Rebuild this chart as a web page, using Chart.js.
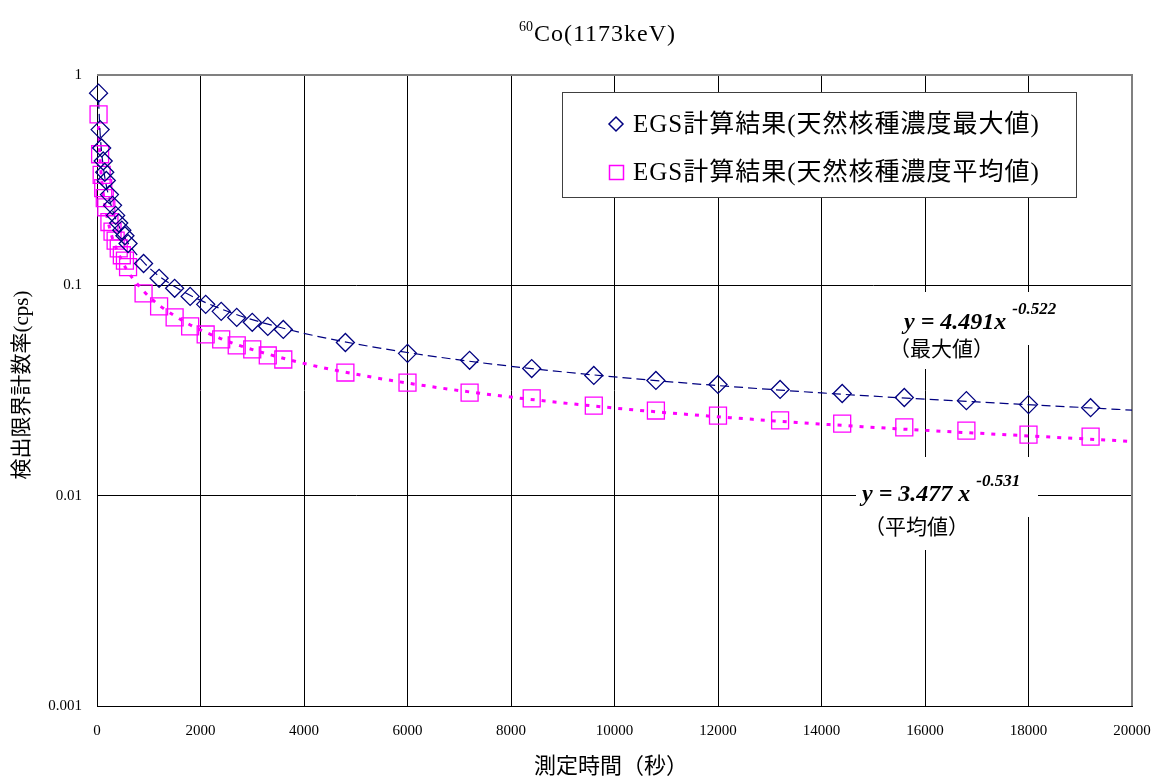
<!DOCTYPE html>
<html>
<head>
<meta charset="utf-8">
<script src="https://cdn.jsdelivr.net/npm/chart.js@4.4.0/dist/chart.umd.min.js"></script>
<style>
  html, body { margin: 0; padding: 0; background: #fff; }
</style>
</head>
<body>
<canvas id="detectionChart" width="1154" height="782"></canvas>
<script>
// measurement times (s)
const times = [30, 60, 90, 120, 150, 180, 240, 300, 360, 420, 480, 540, 600,
    900, 1200, 1500, 1800, 2100, 2400, 2700, 3000, 3300, 3600,
    4800, 6000, 7200, 8400, 9600, 10800, 12000, 13200, 14400, 15600, 16800, 18000, 19200];

// EGS result, max natural nuclide concentration (cps)
const maxValues = [0.82, 0.55, 0.45, 0.39, 0.345, 0.315, 0.27, 0.24, 0.215, 0.198, 0.183, 0.172, 0.158,
    0.127, 0.108, 0.0968, 0.0886, 0.0812, 0.0752, 0.0704, 0.0667, 0.0638, 0.0617,
    0.0535, 0.0475, 0.0440, 0.0402, 0.0373, 0.0353, 0.0338, 0.0320, 0.0306, 0.0293, 0.0283, 0.0271, 0.0262];

// EGS result, average natural nuclide concentration (cps)
const avgValues = [0.65, 0.42, 0.335, 0.29, 0.26, 0.235, 0.20, 0.18, 0.163, 0.15, 0.139, 0.131, 0.122,
    0.0916, 0.0794, 0.0704, 0.0638, 0.0584, 0.0553, 0.0518, 0.0496, 0.0464, 0.0444,
    0.0385, 0.0345, 0.0309, 0.0290, 0.0268, 0.0254, 0.0240, 0.0228, 0.0220, 0.0211, 0.0204, 0.0195, 0.0191];

// power trend lines
const trendTimes = [30, 60, 120, 240, 480, 900, 1500, 2400, 3600, 5000, 7000, 10000, 14000, 20000];
const trendMax = [0.761, 0.530, 0.369, 0.257, 0.179, 0.1289, 0.0987, 0.0772, 0.0625, 0.0527, 0.0442, 0.0367, 0.0308, 0.0255];
const trendAvg = [0.571, 0.395, 0.274, 0.189, 0.131, 0.0939, 0.0716, 0.0557, 0.0450, 0.0378, 0.0316, 0.0261, 0.0219, 0.0181];

const yTicks = [1, 0.1, 0.01, 0.001];

const SERIF = "'Liberation Serif', 'Noto Sans CJK JP', serif";
const NAVY = '#000080';
const MAGENTA = '#ff00ff';

const toPoints = (xs, ys) => xs.map((x, i) => ({ x: x, y: ys[i] }));

/**
 * Title, axis titles, legend box and fit-equation labels
 */
const overlay = {
    id: 'overlay',
    beforeDatasetsDraw(chart) {
        const ctx = chart.ctx;
        const area = chart.chartArea;
        ctx.save();

        // gray frame on top / right
        ctx.strokeStyle = '#808080';
        ctx.lineWidth = 2;
        ctx.beginPath();
        ctx.moveTo(area.left, area.top);
        ctx.lineTo(area.right, area.top);
        ctx.lineTo(area.right, area.bottom);
        ctx.stroke();

        // white boxes behind the equation labels
        ctx.fillStyle = '#fff';
        ctx.fillRect(890, 292, 185, 53);
        ctx.fillRect(893, 335, 107, 34);
        ctx.fillRect(856, 457, 182, 60);
        ctx.fillRect(864, 508, 114, 42);

        ctx.fillStyle = '#000';
        ctx.textBaseline = 'alphabetic';
        ctx.textAlign = 'left';

        const equation = (x, baseline, main, sup) => {
            ctx.font = `italic bold 24px ${SERIF}`;
            ctx.fillText(main, x, baseline);
            const w = ctx.measureText(main).width;
            ctx.font = `italic bold 17px ${SERIF}`;
            ctx.fillText(sup, x + w + 6, baseline - 15);
        };
        equation(904, 329, 'y = 4.491x', '-0.522');
        equation(862, 501, 'y = 3.477 x', '-0.531');

        ctx.font = `21px ${SERIF}`;
        ctx.textBaseline = 'middle';
        ctx.fillText('（最大値）', 889, 350);
        ctx.fillText('（平均値）', 864, 528);

        ctx.restore();
    },
    afterDraw(chart) {
        const ctx = chart.ctx;
        ctx.save();
        ctx.fillStyle = '#000';

        // chart title with superscript mass number
        ctx.textBaseline = 'alphabetic';
        ctx.font = `14px ${SERIF}`;
        const supW = ctx.measureText('60').width;
        ctx.font = `24px ${SERIF}`;
        ctx.letterSpacing = '1px';
        const mainText = 'Co(1173keV)';
        const mainW = ctx.measureText(mainText).width;
        const startX = 597 - (supW + mainW) / 2;
        ctx.fillText(mainText, startX + supW + 1, 41);
        ctx.letterSpacing = '0px';
        ctx.font = `14px ${SERIF}`;
        ctx.fillText('60', startX, 31);

        // axis titles
        ctx.textAlign = 'center';
        ctx.textBaseline = 'middle';
        ctx.font = `22px ${SERIF}`;
        ctx.fillText('測定時間（秒）', 611, 767);

        ctx.font = `21px ${SERIF}`;
        ctx.save();
        ctx.translate(22, 385);
        ctx.rotate(-Math.PI / 2);
        ctx.fillText('検出限界計数率(cps)', 0, 0);
        ctx.restore();

        // legend
        ctx.fillStyle = '#fff';
        ctx.fillRect(562.5, 92.5, 514, 105);
        ctx.strokeStyle = '#404040';
        ctx.lineWidth = 1;
        ctx.strokeRect(562.5, 92.5, 514, 105);

        ctx.lineWidth = 1.5;
        ctx.strokeStyle = NAVY;
        ctx.beginPath();
        ctx.moveTo(609, 124);
        ctx.lineTo(616, 117);
        ctx.lineTo(623, 124);
        ctx.lineTo(616, 131);
        ctx.closePath();
        ctx.stroke();

        ctx.strokeStyle = MAGENTA;
        ctx.strokeRect(609.5, 165.5, 14, 14);

        ctx.fillStyle = '#000';
        ctx.textAlign = 'left';
        ctx.font = `25px ${SERIF}`;
        ctx.letterSpacing = '1px';
        ctx.fillText('EGS計算結果(天然核種濃度最大値)', 633, 125);
        ctx.fillText('EGS計算結果(天然核種濃度平均値)', 633, 173);
        ctx.letterSpacing = '0px';

        ctx.restore();
    }
};

new Chart(document.getElementById('detectionChart'), {
    type: 'scatter',
    data: {
        datasets: [
            {
                label: 'EGS計算結果(天然核種濃度最大値)',
                data: toPoints(times, maxValues),
                pointStyle: 'rectRot',
                pointRadius: 9,
                borderColor: NAVY,
                backgroundColor: 'transparent',
                borderWidth: 1.3,
                clip: false
            },
            {
                label: 'EGS計算結果(天然核種濃度平均値)',
                data: toPoints(times, avgValues),
                pointStyle: 'rect',
                pointRadius: 12,
                borderColor: MAGENTA,
                backgroundColor: 'transparent',
                borderWidth: 1.3,
                clip: false
            },
            {
                label: 'trend max',
                data: toPoints(trendTimes, trendMax),
                showLine: true,
                pointRadius: 0,
                borderColor: NAVY,
                borderWidth: 1.2,
                borderDash: [9, 5],
                cubicInterpolationMode: 'monotone'
            },
            {
                label: 'trend avg',
                data: toPoints(trendTimes, trendAvg),
                showLine: true,
                pointRadius: 0,
                borderColor: MAGENTA,
                borderWidth: 3,
                borderDash: [4, 7],
                cubicInterpolationMode: 'monotone'
            }
        ]
    },
    options: {
        responsive: false,
        animation: false,
        layout: {
            padding: { top: 75, right: 22, left: 0, bottom: 0 }
        },
        plugins: {
            legend: { display: false },
            tooltip: { enabled: false }
        },
        scales: {
            x: {
                type: 'linear',
                min: 0,
                max: 20000,
                ticks: {
                    stepSize: 2000,
                    color: '#000',
                    padding: 16,
                    maxRotation: 0,
                    font: { family: SERIF, size: 15 },
                    callback: (value) => String(value)
                },
                grid: { color: '#000', lineWidth: 1, drawTicks: false },
                border: { color: '#000', width: 1 },
                afterFit: (scale) => {
                    scale.height = 76;
                    scale.paddingLeft = 0;
                    scale.paddingRight = 0;
                }
            },
            y: {
                type: 'logarithmic',
                min: 0.001,
                max: 1,
                afterBuildTicks: (scale) => {
                    scale.ticks = yTicks.map(v => ({ value: v }));
                },
                ticks: {
                    color: '#000',
                    padding: 15,
                    font: { family: SERIF, size: 15 },
                    callback: (value) => String(value)
                },
                grid: { color: '#000', lineWidth: 1, drawTicks: false },
                border: { color: '#000', width: 1 },
                afterFit: (scale) => {
                    scale.width = 97;
                    scale.paddingTop = 0;
                    scale.paddingBottom = 0;
                }
            }
        }
    },
    plugins: [overlay]
});
</script>
</body>
</html>
